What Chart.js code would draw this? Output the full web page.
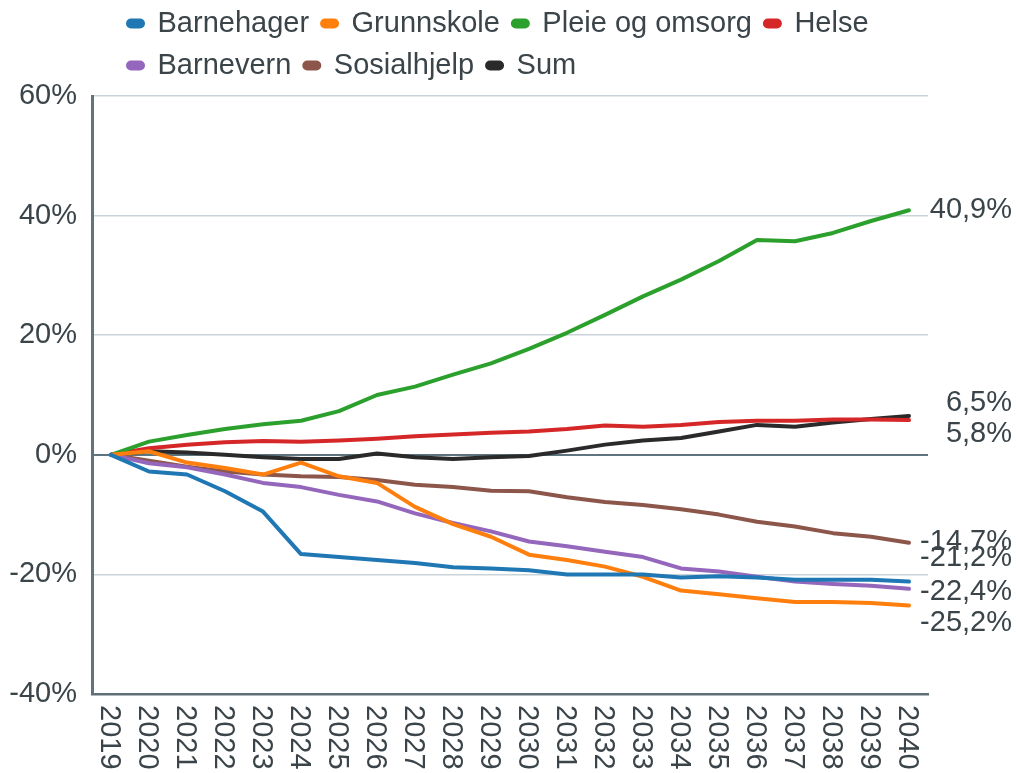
<!DOCTYPE html>
<html>
<head>
<meta charset="utf-8">
<script src="https://cdn.jsdelivr.net/npm/chart.js@4/dist/chart.umd.min.js"></script>
<style>
  html, body { margin: 0; padding: 0; background: #ffffff; }
  #wrap { width: 1016px; height: 773px; position: relative; }
</style>
</head>
<body>
<div id="wrap"><canvas id="c" width="1016" height="773"></canvas></div>
<script>
const years = ['2019','2020','2021','2022','2023','2024','2025','2026','2027','2028','2029','2030','2031','2032','2033','2034','2035','2036','2037','2038','2039','2040'];
const yTicks = [-40, -20, 0, 20, 40, 60];

const barnehager  = [0, -2.8, -3.3, -6.1, -9.5, -16.6, -17.1, -17.6, -18.1, -18.8, -19.0, -19.3, -20.0, -20.0, -20.0, -20.5, -20.3, -20.5, -20.9, -20.9, -20.9, -21.2];
const grunnskole  = [0, 0.6, -1.3, -2.2, -3.3, -1.3, -3.6, -4.7, -8.7, -11.6, -13.7, -16.7, -17.6, -18.7, -20.4, -22.7, -23.3, -24.0, -24.6, -24.6, -24.8, -25.2];
const pleie       = [0, 2.2, 3.3, 4.3, 5.1, 5.7, 7.3, 10.0, 11.4, 13.4, 15.3, 17.7, 20.4, 23.4, 26.5, 29.3, 32.4, 35.9, 35.7, 37.1, 39.1, 40.9];
const helse       = [0, 1.1, 1.7, 2.1, 2.3, 2.2, 2.4, 2.7, 3.1, 3.4, 3.7, 3.9, 4.3, 4.9, 4.7, 5.0, 5.5, 5.7, 5.7, 5.9, 5.9, 5.8];
const barnevern   = [0, -1.4, -2.1, -3.3, -4.7, -5.4, -6.7, -7.8, -9.8, -11.4, -12.8, -14.5, -15.3, -16.2, -17.1, -19.0, -19.5, -20.4, -21.2, -21.6, -21.9, -22.4];
const sosialhjelp = [0, -1.0, -2.0, -2.8, -3.3, -3.6, -3.7, -4.2, -5.0, -5.4, -6.0, -6.1, -7.1, -7.9, -8.4, -9.1, -10.0, -11.2, -12.0, -13.1, -13.7, -14.7];
const sum         = [0, 0.6, 0.4, 0, -0.4, -0.7, -0.7, 0.2, -0.4, -0.7, -0.4, -0.2, 0.7, 1.7, 2.4, 2.8, 3.9, 5.0, 4.7, 5.4, 6.0, 6.5];

const seriesNames = ['Barnehager', 'Grunnskole', 'Pleie og omsorg', 'Helse', 'Barnevern', 'Sosialhjelp', 'Sum'];
const seriesData = [barnehager, grunnskole, pleie, helse, barnevern, sosialhjelp, sum];

// styling (kept separate from data)
const colors = ['#1f77b4', '#ff7f0e', '#2ca02c', '#d62728', '#9467bd', '#8c564b', '#2a2a2a'];
const endLabelNudge = [-24, 18, 0, 14, 3, -1, -13];
const FONT = '"Liberation Sans", Arial, Helvetica, sans-serif';
const TEXT = '#3a4449';

const xLabelsPlugin = {
  id: 'xLabels',
  afterDraw(chart) {
    const xs = chart.scales.x;
    const ctx = chart.ctx;
    ctx.save();
    ctx.font = '29px ' + FONT;
    ctx.fillStyle = TEXT;
    ctx.textAlign = 'left';
    ctx.textBaseline = 'middle';
    years.forEach((lab, i) => {
      const x = xs.getPixelForValue(i);
      ctx.save();
      ctx.translate(x - 2, xs.top + 11);
      ctx.rotate(Math.PI / 2);
      ctx.fillText(lab, 0, 0);
      ctx.restore();
    });
    ctx.restore();
  }
};

const endLabelsPlugin = {
  id: 'endLabels',
  afterDatasetsDraw(chart) {
    const ys = chart.scales.y;
    const ctx = chart.ctx;
    ctx.save();
    ctx.font = '29px ' + FONT;
    ctx.fillStyle = TEXT;
    ctx.textAlign = 'right';
    ctx.textBaseline = 'middle';
    chart.data.datasets.forEach((ds, i) => {
      const v = ds.data[ds.data.length - 1];
      const y = ys.getPixelForValue(v) + endLabelNudge[i];
      ctx.fillText(v.toFixed(1).replace('.', ',') + '%', chart.width - 4, y);
    });
    ctx.restore();
  }
};

const legendShift = {
  id: 'legendShift',
  afterLayout(chart) {
    const lg = chart.legend;
    const dx = 128 - (lg.left + 13);
    lg.left += dx; lg.right += dx;
    lg.top -= 6; lg.bottom -= 6;
  }
};

new Chart(document.getElementById('c'), {
  type: 'line',
  data: {
    labels: years,
    datasets: seriesNames.map((n, i) => ({
      label: n,
      data: seriesData[i],
      borderColor: colors[i],
      backgroundColor: colors[i],
      borderWidth: 4,
      pointRadius: 0,
      tension: 0,
      borderCapStyle: 'round',
      borderJoinStyle: 'round',
      fill: false
    }))
  },
  options: {
    responsive: false,
    animation: false,
    devicePixelRatio: 1,
    layout: { padding: { top: 2, right: 88, left: 0, bottom: 0 } },
    plugins: {
      legend: {
        position: 'top',
        align: 'start',
        fullSize: false,
        labels: {
          font: { size: 29, family: FONT },
          color: TEXT,
          boxWidth: 15,
          boxHeight: 6,
          useBorderRadius: true,
          borderRadius: 3,
          padding: 13
        }
      },
      tooltip: { enabled: false }
    },
    scales: {
      x: {
        offset: true,
        grid: { display: false, drawTicks: false },
        border: { display: true, color: '#5f6f77', width: 2.5 },
        ticks: { display: false },
        afterFit(scale) { scale.height = 79; }
      },
      y: {
        min: -40,
        max: 60,
        afterBuildTicks(scale) { scale.ticks = yTicks.map(v => ({ value: v })); },
        grid: {
          drawTicks: false,
          color: ctx => (ctx.tick && ctx.tick.value === 0) ? '#5e7580' : '#c9d3d9',
          lineWidth: ctx => (ctx.tick && ctx.tick.value === 0) ? 2 : 1.5
        },
        border: { display: true, color: '#62737b', width: 3 },
        ticks: {
          padding: 15,
          color: TEXT,
          font: { size: 29, family: FONT },
          callback: v => v + '%'
        },
        afterFit(scale) { scale.width = 92; }
      }
    }
  },
  plugins: [xLabelsPlugin, endLabelsPlugin, legendShift]
});
</script>
</body>
</html>
